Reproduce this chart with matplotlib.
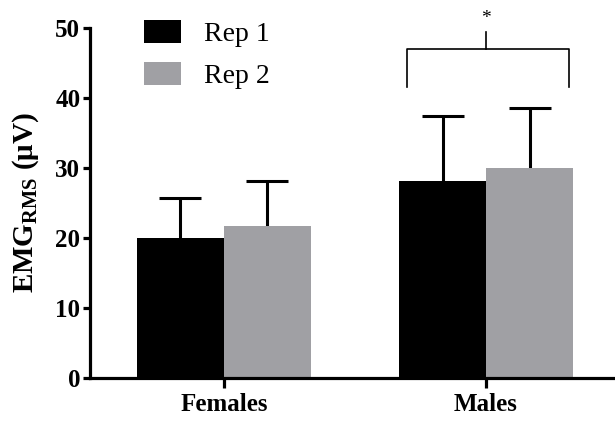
import matplotlib.pyplot as plt
import numpy as np

plt.rcParams["font.family"] = ["Liberation Serif", "DejaVu Serif"]
plt.rcParams["mathtext.fontset"] = "custom"
plt.rcParams["mathtext.rm"] = "Liberation Serif:bold"
plt.rcParams["mathtext.bf"] = "Liberation Serif:bold"

# data
groups = ["Females", "Males"]
rep1_mean = [20.0, 28.1]
rep1_sd = [5.7, 9.3]
rep2_mean = [21.7, 30.0]
rep2_sd = [6.4, 8.6]
series = ["Rep 1", "Rep 2"]
colors = ["#000000", "#a0a0a4"]

bar_width = 0.332
cap_half = 0.08
x = np.arange(len(groups))

fig = plt.figure(figsize=(6.15, 4.25), dpi=100)
ax = fig.add_axes([90 / 615, 47 / 425, 525 / 615, 350 / 425])

for offset, means, sds, color, name in [(-bar_width / 2, rep1_mean, rep1_sd, colors[0], series[0]),
                                        (bar_width / 2, rep2_mean, rep2_sd, colors[1], series[1])]:
    pos = x + offset
    ax.bar(pos, means, bar_width, color=color, label=name, zorder=2)
    tops = np.array(means) + np.array(sds)
    # upper-only error bars
    ax.vlines(pos, means, tops, color="black", lw=2.2, zorder=1)
    ax.hlines(tops, pos - cap_half, pos + cap_half, color="black", lw=2.2, zorder=1)

ax.set_xlim(-0.511, 1.492)
ax.set_ylim(0, 50)
ax.set_yticks([0, 10, 20, 30, 40, 50])
ax.set_xticks(x)
ax.set_xticklabels(groups, fontsize=18, fontweight="bold")
for lbl in ax.get_yticklabels():
    lbl.set_fontsize(18)
    lbl.set_fontweight("bold")
ax.set_ylabel(r"EMG$_{\mathbf{RMS}}$ ($\mathbf{\mu}$V)", fontsize=21, fontweight="bold", labelpad=10)

for side in ["top", "right"]:
    ax.spines[side].set_visible(False)
for side in ["left", "bottom"]:
    ax.spines[side].set_linewidth(2.3)
ax.tick_params(axis="y", width=2.3, length=5, pad=2)
ax.tick_params(axis="x", width=2.3, length=7, pad=4)

# significance bracket over males
xl = x[1] - bar_width + 0.03
xr = x[1] + bar_width - 0.015
ax.plot([xl, xl, xr, xr], [41.6, 47.0, 47.0, 41.6], color="black", lw=1.2, clip_on=False)
ax.plot([x[1], x[1]], [47.0, 49.4], color="black", lw=1.2, clip_on=False)
ax.text(x[1], 50.2, "*", ha="center", va="bottom", fontsize=14, clip_on=False)

ax.legend(loc="upper left", bbox_to_anchor=(0.055, 1.095), frameon=False, fontsize=20,
          handlelength=1.35, handleheight=0.9, handletextpad=0.8, labelspacing=0.55)

fig.savefig("out.png", dpi=100)
